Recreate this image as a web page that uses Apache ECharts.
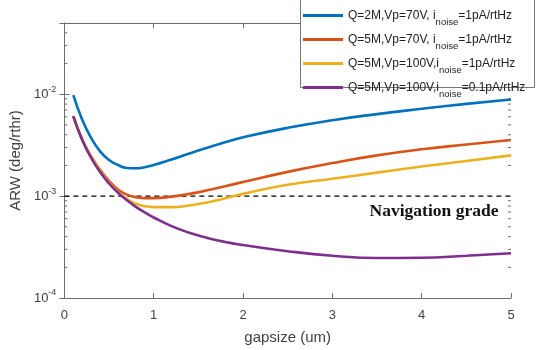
<!DOCTYPE html>
<html>
<head>
<meta charset="utf-8">
<script src="https://cdn.jsdelivr.net/npm/echarts@6/dist/echarts.min.js"></script>
<style>html,body{margin:0;padding:0;background:#fff}#c{width:536px;height:350px}</style>
</head>
<body>
<div id="c"></div>
<script>
const gap = [0.1,0.2,0.3,0.4,0.5,0.6,0.7,0.8,0.9,1.0,1.2,1.4,1.6,1.8,2.0,2.5,3.0,3.5,4.0,4.5,5.0];
const arwQ2V70 = [0.0098,0.00562,0.00372,0.00275,0.00226,0.00202,0.00189,0.001875,0.001923,0.002018,0.00229,0.00262,0.00299,0.00337,0.00378,0.00468,0.00556,0.00638,0.00719,0.00804,0.00889];
const arwQ5V70 = [0.0061,0.00359,0.00245,0.00182,0.00141,0.00116,0.001035,0.000977,0.000955,0.000955,0.000989,0.001052,0.00114,0.00125,0.001374,0.00173,0.00211,0.00251,0.00288,0.00321,0.00355];
const arwQ5V100 = [0.0061,0.00357,0.00243,0.00178,0.00136,0.0011,0.000933,0.000841,0.000794,0.00078,0.00078,0.000809,0.000867,0.000951,0.001052,0.00129,0.00148,0.0017,0.00195,0.00221,0.00251];
const arwQ5V100low = [0.0061,0.00355,0.00237,0.00172,0.00133,0.00108,0.000912,0.000785,0.000692,0.000617,0.000507,0.000437,0.000389,0.000355,0.000331,0.000288,0.00026,0.000247,0.000248,0.00026,0.000275];
const navGrade = 0.001;
const seriesNames = ['Q=2M,Vp=70V, i{s|noise}=1pA/rtHz','Q=5M,Vp=70V, i{s|noise}=1pA/rtHz','Q=5M,Vp=100V,i{s|noise}=1pA/rtHz','Q=5M,Vp=100V,i{s|noise}=0.1pA/rtHz'];
const colors = ['#0072BD','#D95319','#EDB120','#7E2F8E'];
const xTicks = [0,1,2,3,4,5];
const yMin = 1e-4, yMax = 0.05;
const minorTicks = [2e-4,3e-4,4e-4,5e-4,6e-4,7e-4,8e-4,9e-4,2e-3,3e-3,4e-3,5e-3,6e-3,7e-3,8e-3,9e-3,2e-2,3e-2,4e-2];

const font = 'Arial, "Liberation Sans", sans-serif';
const axisColor = '#6e6e6e';
const labelColor = '#404040';
const pairs = arr => gap.map((g,i)=>[g, arr[i]]);
const allData = [arwQ2V70, arwQ5V70, arwQ5V100, arwQ5V100low];

const chart = echarts.init(document.getElementById('c'), null, {renderer:'canvas'});
const yLabel = v => {
  const e = Math.round(Math.log10(v));
  if (Math.abs(v - Math.pow(10, e)) / v > 1e-6) return '';
  return '10{sup|' + e + '}';
};
const series = [{
  type:'line', name:'nav', data:[[xTicks[0], navGrade],[xTicks[xTicks.length-1], navGrade]],
  symbol:'none', silent:true, z:2,
  lineStyle:{color:'#000', width:1.3, type:[5,4]}
}];
allData.forEach((arr,i)=>{
  series.push({type:'line', name:seriesNames[i], data:pairs(arr), symbol:'none', smooth:0.5,
    lineStyle:{color:colors[i], width:2.6}, itemStyle:{color:colors[i]}, z:3});
});
series.push({
  type:'custom', name:'minor', silent:true, z:1,
  data: minorTicks.map(v=>[xTicks[0], v]),
  encode:{x:0,y:1},
  renderItem:(params, api)=>{
    const v = api.value(1);
    const pL = api.coord([xTicks[0], v]);
    const pR = api.coord([xTicks[xTicks.length-1], v]);
    return {type:'group', children:[
      {type:'line', shape:{x1:pL[0], y1:pL[1], x2:pL[0]+3, y2:pL[1]}, style:{stroke:axisColor, lineWidth:1}},
      {type:'line', shape:{x1:pR[0]-3, y1:pR[1], x2:pR[0], y2:pR[1]}, style:{stroke:axisColor, lineWidth:1}}
    ]};
  }
});

chart.setOption({
  animation:false,
  textStyle:{fontFamily:font},
  grid:{left:62.5, right:25, top:23, bottom:51, containLabel:false},
  xAxis:[{
    type:'value', min:0, max:5, interval:1, position:'bottom',
    name:'gapsize (um)', nameLocation:'middle', nameGap:32,
    nameTextStyle:{fontSize:15, color:labelColor, fontFamily:font},
    axisLine:{lineStyle:{color:axisColor, width:1}},
    axisTick:{inside:true, length:5, lineStyle:{color:axisColor}},
    axisLabel:{fontSize:13, color:labelColor, margin:11, fontFamily:font},
    splitLine:{show:false}
  },{
    type:'value', min:0, max:5, interval:1, position:'top',
    axisLine:{show:true, lineStyle:{color:axisColor, width:1}},
    axisTick:{inside:true, length:5, lineStyle:{color:axisColor}},
    axisLabel:{show:false}, splitLine:{show:false}
  }],
  yAxis:[{
    type:'log', logBase:10, min:yMin, max:yMax, position:'left',
    name:'ARW (deg/rthr)', nameLocation:'middle', nameGap:36,
    nameTextStyle:{fontSize:15, color:labelColor, fontFamily:font},
    axisLine:{show:true, lineStyle:{color:axisColor, width:1}},
    axisTick:{inside:true, length:5, lineStyle:{color:axisColor}},
    axisLabel:{fontSize:13, color:labelColor, margin:8, formatter:yLabel, fontFamily:font,
      rich:{sup:{fontSize:9, color:labelColor, padding:[0,0,10,0], fontFamily:font}}},
    splitLine:{show:false}
  },{
    type:'log', logBase:10, min:yMin, max:yMax, position:'right',
    axisLine:{show:true, lineStyle:{color:axisColor, width:1}},
    axisTick:{inside:true, length:5, lineStyle:{color:axisColor}},
    axisLabel:{show:false}, splitLine:{show:false}
  }],
  legend:{
    show:true, orient:'vertical', left:303, top:4, padding:0, itemGap:1,
    data:seriesNames, icon:'rect', itemWidth:40, itemHeight:3, borderWidth:0,
    formatter:n=>n,
    textStyle:{fontSize:12, color:'#222', fontFamily:font, lineHeight:14,
      rich:{s:{fontSize:9.5, lineHeight:9, padding:[13,0,0,0], color:'#222', fontFamily:font}}},
    z:5
  },
  graphic:[
    {type:'rect', shape:{x:300.5, y:-1.5, width:234, height:89}, style:{fill:'#fff', stroke:'#777', lineWidth:1}, z:4},
    {type:'text', x:434, y:211, style:{text:'Navigation grade', fill:'#111', font:'bold 17.5px "Times New Roman", "Liberation Serif", serif', textAlign:'center', textVerticalAlign:'middle'}, z:4}
  ],
  series:series
});
</script>
</body>
</html>
